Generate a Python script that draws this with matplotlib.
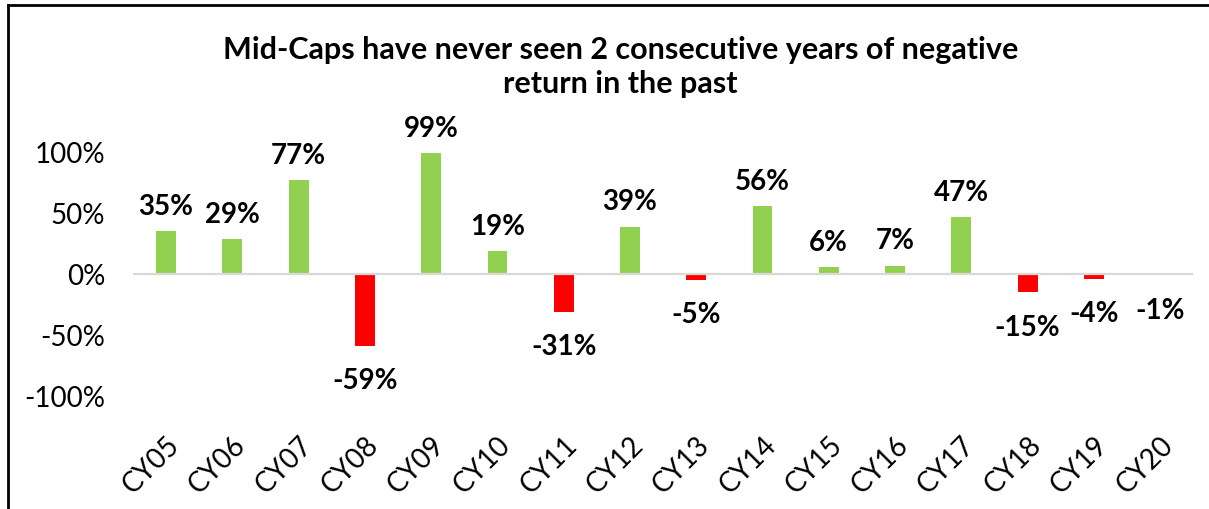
import matplotlib.pyplot as plt
from matplotlib.lines import Line2D

# datos del grafico
years = ["CY05", "CY06", "CY07", "CY08", "CY09", "CY10", "CY11", "CY12",
         "CY13", "CY14", "CY15", "CY16", "CY17", "CY18", "CY19", "CY20"]
returns = [35, 29, 77, -59, 99, 19, -31, 39, -5, 56, 6, 7, 47, -15, -4, -1]
yticks = [-100, -50, 0, 50, 100]

plt.rcParams['font.family'] = ['Lato', 'DejaVu Sans']

fig = plt.figure(figsize=(12.09, 5.09), dpi=100)
ax = fig.add_axes([0.110, 0.222, 0.877, 0.479])

colores = ['#92D050' if r >= 0 else '#FF0000' for r in returns]
x = list(range(len(years)))
ax.bar(x, returns, width=0.3, color=colores, zorder=2)
# la linea del eje va encima de las barras, como en Excel
ax.axhline(0, color='#D9D9D9', linewidth=1.6, zorder=3)

# etiquetas de datos
for xi, r in zip(x, returns):
    if r >= 0:
        ax.annotate(f"{r}%", (xi, r), xytext=(0, 8), textcoords='offset points',
                    ha='center', va='bottom', fontsize=20, fontweight='bold')
    else:
        ax.annotate(f"{r}%", (xi, r), xytext=(0, -16), textcoords='offset points',
                    ha='center', va='top', fontsize=20, fontweight='bold')

ax.set_xlim(-0.5, len(years) - 0.5)
ax.set_ylim(-100, 100)
ax.set_yticks(yticks)
ax.set_yticklabels([f"{t}%" for t in yticks], fontsize=20)
ax.set_xticks(x)
ax.set_xticklabels(years, rotation=45, ha='right', va='top',
                   rotation_mode='anchor', fontsize=20)
ax.tick_params(axis='y', length=0, pad=20)
ax.tick_params(axis='x', length=0, pad=26)
for s in ax.spines.values():
    s.set_visible(False)

fig.suptitle("Mid-Caps have never seen 2 consecutive years of negative\nreturn in the past",
             x=0.513, y=0.93, fontsize=22, fontweight='bold', linespacing=1.28)

# marco del area del grafico (solo arriba e izquierda visibles)
fig.add_artist(Line2D([0.0066, 0.0066], [0, 0.99], transform=fig.transFigure,
                      color='black', linewidth=2))
fig.add_artist(Line2D([0.0066, 1.0], [0.99, 0.99], transform=fig.transFigure,
                      color='black', linewidth=2))

fig.savefig("out.png", dpi=100)
